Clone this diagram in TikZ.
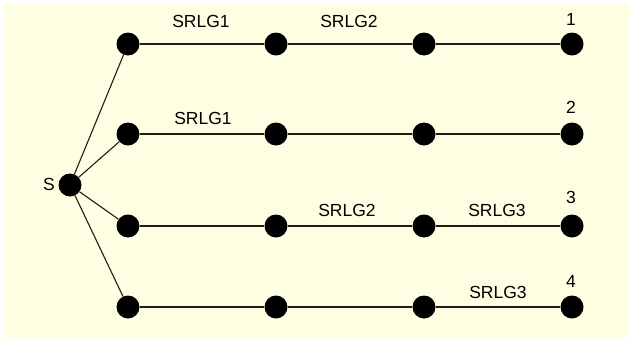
\documentclass[tikz,border=0pt]{standalone}
\usepackage{fontspec}
\setmainfont{Liberation Sans}
\definecolor{bgyellow}{RGB}{254,254,226}
\definecolor{edgecol}{RGB}{30,30,20}
\tikzset{
  dot/.style={circle,fill=black,inner sep=0pt,minimum size=23pt},
  lbl/.style={font=\fontsize{17.5}{19}\selectfont,inner sep=0pt,text=black},
  edge/.style={draw=edgecol,line width=1.1pt}
}
\begin{document}
\begin{tikzpicture}[x=1pt,y=-1pt]
\useasboundingbox (0,0) rectangle (629,343);
\fill[bgyellow] (4,4) rectangle (629,338);
% source
\node[dot] (s) at (70,185) {};
\node[lbl] (slbl) at (49,184) {S};
% nodes
\foreach \r/\y in {1/44,2/134,3/226,4/307}{
  \node[dot] (n\r a) at (128,\y) {};
  \node[dot] (n\r b) at (276,\y) {};
  \node[dot] (n\r c) at (424,\y) {};
  \node[dot] (n\r d) at (572,\y) {};
}
\foreach \r in {1,2,3,4}{
  \draw[edge] (s) -- (n\r a);
  \draw[edge] (n\r a) -- (n\r b) -- (n\r c) -- (n\r d);
}
% SRLG labels
\node[lbl] (l1a) at (201,21) {SRLG1};
\node[lbl] (l1b) at (349,21) {SRLG2};
\node[lbl] (l2a) at (203,118) {SRLG1};
\node[lbl] (l3b) at (347,210) {SRLG2};
\node[lbl] (l3c) at (497,210) {SRLG3};
\node[lbl] (l4c) at (498,292) {SRLG3};
% destination numbers
\node[lbl] (d1) at (571,19) {1};
\node[lbl] (d2) at (571,107) {2};
\node[lbl] (d3) at (571,197) {3};
\node[lbl] (d4) at (571,281) {4};
\end{tikzpicture}
\end{document}
